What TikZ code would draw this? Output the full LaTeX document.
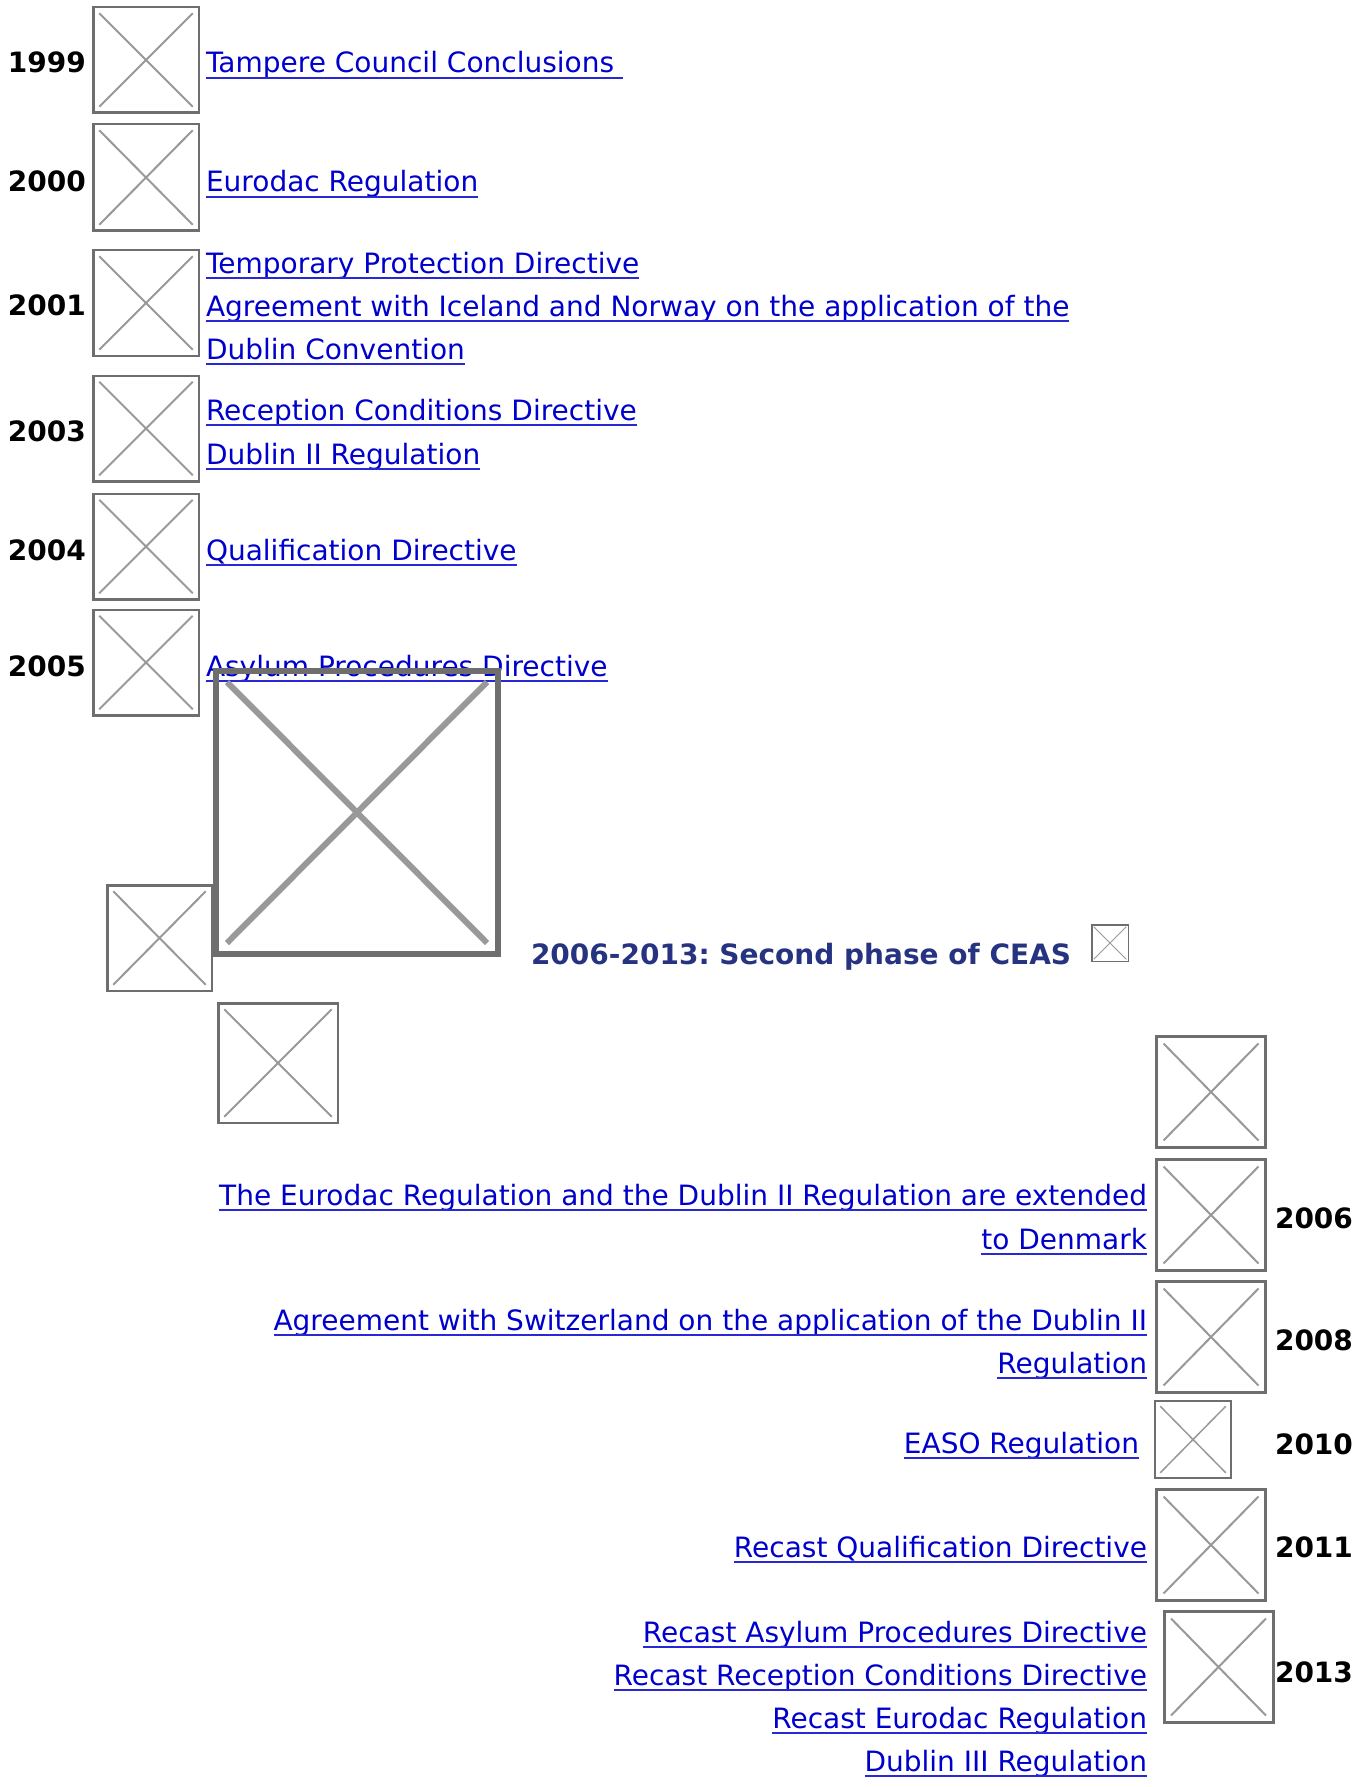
\documentclass[tikz,border=0pt]{standalone}
\usepackage{fontspec}
\setmainfont{DejaVu Sans}
\frenchspacing
\definecolor{linkblue}{RGB}{0,0,204}
\definecolor{ulblue}{RGB}{40,40,215}
\definecolor{boxgray}{RGB}{110,110,110}
\definecolor{xgray}{RGB}{153,153,153}
\definecolor{titleblue}{RGB}{38,51,128}
\newcommand\ulink[1]{\draw[ulstyle] ([yshift=-5pt]#1.base west) -- ([yshift=-5pt]#1.base east);}
\tikzset{
  imgbox/.style n args={3}{draw=boxgray, line width=#1, inner sep=0pt, outer sep=0pt, fill=none,
    path picture={\draw[xgray, line width=#2]
      ([shift={(#3,-#3)}]path picture bounding box.north west) -- ([shift={(-#3,#3)}]path picture bounding box.south east)
      ([shift={(-#3,-#3)}]path picture bounding box.north east) -- ([shift={(#3,#3)}]path picture bounding box.south west);}},
  smallimg/.style={imgbox={2.5pt}{2pt}{6pt}},
  txt/.style={inner sep=0pt, outer sep=0pt, font=\fontsize{28}{34}\selectfont},
  yearl/.style={txt, font=\fontsize{28}{34}\selectfont\bfseries, anchor=base west},
  linkl/.style={txt, text=linkblue, anchor=base west},
  linkr/.style={txt, text=linkblue, anchor=base east},
  ulstyle/.style={ulblue, line width=2pt},
}
\begin{document}
\begin{tikzpicture}[x=1pt,y=-1pt]
\useasboundingbox[fill=white] (0,0) rectangle (1367,1787);

% ---- left column (first phase)
\node[yearl] (y1999) at (8,73) {1999};
\node[yearl] (y2000) at (8,192) {2000};
\node[yearl] (y2001) at (8,315) {2001};
\node[yearl] (y2003) at (8,441) {2003};
\node[yearl] (y2004) at (8,560) {2004};
\node[yearl] (y2005) at (8,676) {2005};

\node[smallimg, minimum width=105.5pt, minimum height=105.5pt] (b1999) at (146,60) {};
\node[smallimg, minimum width=105.5pt, minimum height=106.5pt] (b2000) at (146,177.5) {};
\node[smallimg, minimum width=105.5pt, minimum height=105.5pt] (b2001) at (146,303) {};
\node[smallimg, minimum width=105.5pt, minimum height=105.5pt] (b2003) at (146,428.5) {};
\node[smallimg, minimum width=105.5pt, minimum height=105.5pt] (b2004) at (146,546.5) {};
\node[smallimg, minimum width=105.5pt, minimum height=105.5pt] (b2005) at (146,662.5) {};

\node[linkl] (t1) at (206,73) {Tampere Council Conclusions\hspace*{0.32em}};
\node[linkl] (t2) at (206,192) {Eurodac Regulation};
\node[linkl] (t3) at (206,273) {Temporary Protection Directive};
\node[linkl] (t4) at (206,316) {Agreement with Iceland and Norway on the application of the};
\node[linkl] (t5) at (206,359) {Dublin Convention};
\node[linkl] (t6) at (206,420) {Reception Conditions Directive};
\node[linkl] (t7) at (206,464) {Dublin II Regulation};
\node[linkl] (t8) at (206,560) {Qualification Directive};
\node[linkl] (t9) at (206,676) {Asylum Procedures Directive};
\foreach \n in {t1,t2,t3,t4,t5,t6,t7,t8,t9} {\ulink{\n}}

% ---- middle images
\node[imgbox={6pt}{6pt}{11pt}, minimum width=282pt, minimum height=283pt] (big) at (357,812.5) {};
\node[smallimg, minimum width=104.5pt, minimum height=105.5pt] (bmid1) at (159.5,938) {};
\node[smallimg, minimum width=119.5pt, minimum height=119.5pt] (bmid2) at (278,1063) {};

% ---- title
\node[txt, font=\fontsize{28}{34}\selectfont\bfseries, text=titleblue, anchor=base west] (title) at (531,964) {2006-2013: Second phase of CEAS};
\node[imgbox={1.5pt}{1pt}{2pt}, minimum width=36.5pt, minimum height=36.5pt] (btitle) at (1110,943) {};

% ---- right column (second phase)
\tikzset{bigimg/.style={imgbox={3pt}{2pt}{7pt}, minimum width=109pt, minimum height=111pt}}
\node[bigimg] (ba) at (1211,1092) {};
\node[bigimg] (b2006) at (1211,1215) {};
\node[bigimg] (b2008) at (1211,1337) {};
\node[imgbox={2pt}{1.5pt}{5pt}, minimum width=75.5pt, minimum height=76.5pt] (b2010) at (1193,1439.5) {};
\node[bigimg] (b2011) at (1211,1545) {};
\node[bigimg] (b2013) at (1218.5,1667) {};

\node[yearl] (y2006) at (1275,1228) {2006};
\node[yearl] (y2008) at (1275,1350) {2008};
\node[yearl] (y2010) at (1275,1454) {2010};
\node[yearl] (y2011) at (1275,1557) {2011};
\node[yearl] (y2013) at (1275,1682) {2013};

\node[linkr] (r1) at (1147,1205) {The Eurodac Regulation and the Dublin II Regulation are extended};
\node[linkr] (r2) at (1147,1249) {to Denmark};
\node[linkr] (r3) at (1147,1330) {Agreement with Switzerland on the application of the Dublin II};
\node[linkr] (r4) at (1147,1373) {Regulation};
\node[linkr] (r5) at (1139,1453) {EASO Regulation};
\node[linkr] (r6) at (1147,1557) {Recast Qualification Directive};
\node[linkr] (r7) at (1147,1642) {Recast Asylum Procedures Directive};
\node[linkr] (r8) at (1147,1685) {Recast Reception Conditions Directive};
\node[linkr] (r9) at (1147,1728) {Recast Eurodac Regulation};
\node[linkr] (r10) at (1147,1771) {Dublin III Regulation};
\foreach \n in {r1,r2,r3,r4,r5,r6,r7,r8,r9,r10} {\ulink{\n}}
\end{tikzpicture}
\end{document}
